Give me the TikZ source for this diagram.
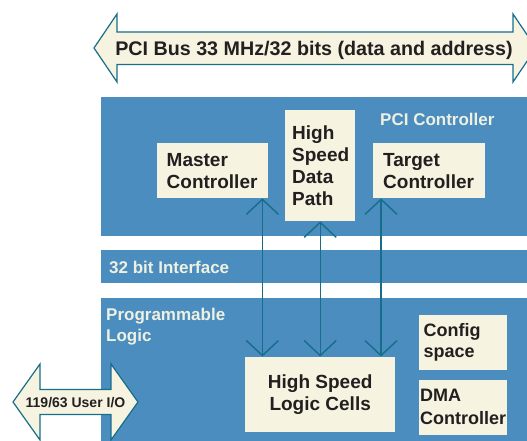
\documentclass[tikz,border=0pt]{standalone}
\usepackage{fontspec}
\setmainfont{Liberation Sans}
\usetikzlibrary{arrows.meta,calc}

\definecolor{blockblue}{RGB}{74,141,190}
\definecolor{boxcream}{RGB}{246,244,225}
\definecolor{linkteal}{RGB}{22,110,138}
\definecolor{labelcream}{RGB}{238,240,226}
\definecolor{ink}{RGB}{35,31,32}

\tikzset{
  block/.style={fill=blockblue, draw=none, anchor=north west, inner sep=0pt},
  cbox/.style={fill=boxcream, draw=none, anchor=north west, align=left, text=ink, inner ysep=0pt,
    font=\fontsize{19}{22}\selectfont\bfseries},
  blocklabel/.style={text=labelcream, inner sep=0pt, align=left, font=\fontsize{17}{21}\selectfont\bfseries},
  link/.style={draw=linkteal, line width=1.4pt,
    {Straight Barb[length=15pt,width=32pt]}-{Straight Barb[length=15pt,width=32pt]}},
  busarrow/.style={fill=boxcream, draw=linkteal, line width=1.2pt, line join=miter},
}

\begin{document}
\begin{tikzpicture}[x=1pt, y=-1pt]
\useasboundingbox (0,0) rectangle (527,441);
\clip (0,0) rectangle (527,441);

% bus on top
\draw[busarrow] (94,48) -- (117,14) -- (117,32) -- (513,32) -- (513,14) -- (536,48)
  -- (513,82) -- (513,64.5) -- (117,64.5) -- (117,82) -- cycle;
\node[text=ink, inner sep=0pt, anchor=base, font=\fontsize{19.7}{22}\selectfont\bfseries] (busname) at (314,55.5)
  {PCI Bus 33 MHz/32 bits (data and address)};

% blue blocks
\node[block, minimum width=426, minimum height=139] (pcictl) at (101,97) {};
\node[block, minimum width=426, minimum height=33] (iface) at (101,250) {};
\node[block, minimum width=426, minimum height=144] (proglogic) at (101,297.5) {};

\node[blocklabel, anchor=base west] (pcilabel) at (380,125) {PCI Controller};
\node[blocklabel, anchor=base west] (ifacelabel) at (109,273) {32 bit Interface};
\node[blocklabel, anchor=north west] (proglabel) at (106,307.5) {Programmable\\[0.5pt]Logic};

% boxes
\node[cbox, minimum height=55, text width=92, inner xsep=9.5] (mc) at (157,143) {Master\\Controller};
\node[cbox, minimum height=111, text width=56, inner xsep=7] (hsdp) at (285,110) {High\\Speed\\Data\\Path};
\node[cbox, minimum height=55, text width=92, inner xsep=10] (tc) at (373,143) {Target\\Controller};
\node[cbox, align=center, minimum width=150, minimum height=75.5, inner xsep=0pt] (hslc) at (245,356.5) {High Speed\\Logic Cells};
\node[cbox, minimum height=55, text width=78, inner xsep=5, font=\fontsize{18}{21}\selectfont\bfseries] (cfg) at (418.5,315) {Config\\space};
\node[cbox, minimum height=55, text width=85, inner xsep=1.5, font=\fontsize{18}{23}\selectfont\bfseries] (dma) at (418.5,379.5) {DMA\\Controller};

% links to the logic cells
\coordinate (mclink) at ($(mc.south east)+(-6,0)$);
\coordinate (tclink) at ($(tc.south west)+(8,0)$);
\draw[link] (mclink) -- (mclink |- hslc.north);
\draw[link] (hsdp.south) -- (hsdp.south |- hslc.north);
\draw[link] (tclink) -- (tclink |- hslc.north);

% user I/O
\draw[busarrow] (13,402) -- (40,364) -- (40,389.5) -- (111,389.5) -- (111,364) -- (138,402)
  -- (111,440) -- (111,414.5) -- (40,414.5) -- (40,440) -- cycle;
\node[text=ink, inner sep=0pt, anchor=base, font=\fontsize{14}{16}\selectfont\bfseries] (userio) at (75.5,407)
  {119/63 User I/O};
\end{tikzpicture}
\end{document}
